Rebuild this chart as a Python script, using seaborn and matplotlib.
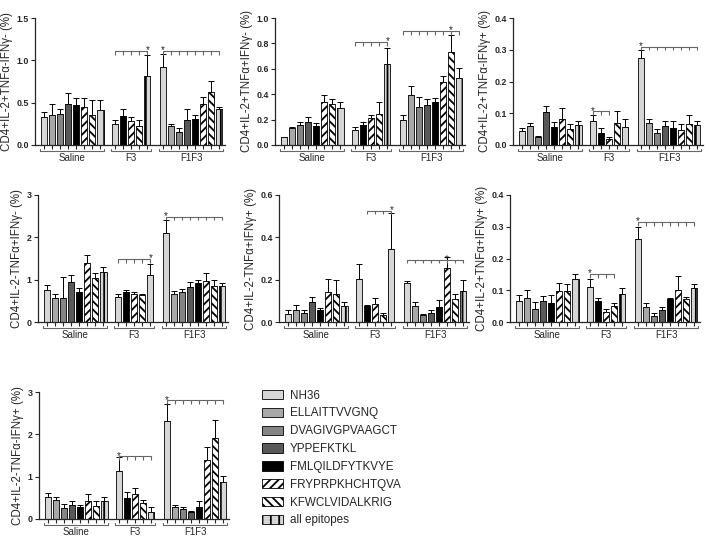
import numpy as np
import pandas as pd
import seaborn as sns
import matplotlib.pyplot as plt
from matplotlib.patches import Patch
from matplotlib.transforms import blended_transform_factory

sns.set_style("ticks")
plt.rcParams["font.family"] = ["Liberation Sans", "DejaVu Sans"]
plt.rcParams["hatch.linewidth"] = 1.3

epitopes = ["NH36", "ELLAITTVVGNQ", "DVAGIVGPVAAGCT", "YPPEFKTKL",
            "FMLQILDFYTKVYE", "FRYPRPKHCHTQVA", "KFWCLVIDALKRIG", "all epitopes"]
f3_epitopes = ["NH36", "FMLQILDFYTKVYE", "FRYPRPKHCHTQVA", "KFWCLVIDALKRIG", "all epitopes"]
groups = ["Saline", "F3", "F1F3"]

ylabels = [
    "CD4+IL-2+TNFα-IFNγ- (%)",
    "CD4+IL-2+TNFα+IFNγ- (%)",
    "CD4+IL-2+TNFα-IFNγ+ (%)",
    "CD4+IL-2-TNFα+IFNγ- (%)",
    "CD4+IL-2-TNFα+IFNγ+ (%)",
    "CD4+IL-2+TNFα+IFNγ+ (%)",
    "CD4+IL-2-TNFα-IFNγ+ (%)",
]

# means and SD (upper error) per group
saline_mean = [
    [0.33, 0.35, 0.37, 0.48, 0.47, 0.45, 0.36, 0.41],
    [0.06, 0.13, 0.155, 0.18, 0.15, 0.335, 0.325, 0.295],
    [0.044, 0.059, 0.026, 0.105, 0.058, 0.082, 0.049, 0.062],
    [0.75, 0.57, 0.56, 0.94, 0.70, 1.39, 1.04, 1.19],
    [0.04, 0.058, 0.043, 0.095, 0.055, 0.142, 0.134, 0.077],
    [0.065, 0.076, 0.041, 0.065, 0.06, 0.098, 0.098, 0.135],
    [0.53, 0.45, 0.26, 0.34, 0.29, 0.42, 0.30, 0.42],
]
saline_sd = [
    [0.06, 0.13, 0.06, 0.14, 0.09, 0.11, 0.17, 0.12],
    [0.005, 0.015, 0.025, 0.04, 0.02, 0.06, 0.04, 0.045],
    [0.011, 0.011, 0.003, 0.019, 0.016, 0.034, 0.017, 0.015],
    [0.12, 0.10, 0.50, 0.16, 0.11, 0.20, 0.12, 0.11],
    [0.018, 0.024, 0.015, 0.023, 0.013, 0.06, 0.063, 0.018],
    [0.02, 0.024, 0.021, 0.017, 0.025, 0.025, 0.022, 0.017],
    [0.08, 0.06, 0.10, 0.09, 0.05, 0.18, 0.12, 0.10],
]
f3_mean = [
    [0.25, 0.34, 0.28, 0.22, 0.82],
    [0.115, 0.16, 0.215, 0.245, 0.64],
    [0.075, 0.039, 0.02, 0.07, 0.056],
    [0.59, 0.72, 0.67, 0.63, 1.10],
    [0.205, 0.074, 0.087, 0.032, 0.346],
    [0.109, 0.065, 0.033, 0.049, 0.087],
    [1.13, 0.50, 0.60, 0.37, 0.17],
]
f3_sd = [
    [0.04, 0.09, 0.05, 0.07, 0.24],
    [0.025, 0.025, 0.02, 0.09, 0.125],
    [0.02, 0.014, 0.004, 0.038, 0.026],
    [0.07, 0.03, 0.04, 0.03, 0.26],
    [0.067, 0.008, 0.027, 0.011, 0.167],
    [0.027, 0.011, 0.007, 0.011, 0.02],
    [0.33, 0.13, 0.13, 0.09, 0.11],
]
f1f3_mean = [
    [0.92, 0.23, 0.155, 0.30, 0.305, 0.49, 0.63, 0.43],
    [0.20, 0.39, 0.30, 0.315, 0.335, 0.495, 0.735, 0.53],
    [0.275, 0.069, 0.039, 0.06, 0.053, 0.047, 0.065, 0.062],
    [2.10, 0.67, 0.72, 0.83, 0.93, 0.98, 0.85, 0.85],
    [0.185, 0.076, 0.035, 0.043, 0.071, 0.253, 0.11, 0.147],
    [0.26, 0.046, 0.02, 0.038, 0.071, 0.10, 0.073, 0.107],
    [2.31, 0.28, 0.23, 0.16, 0.28, 1.40, 1.91, 0.87],
]
f1f3_sd = [
    [0.15, 0.02, 0.04, 0.12, 0.05, 0.08, 0.13, 0.02],
    [0.035, 0.075, 0.075, 0.045, 0.035, 0.045, 0.13, 0.075],
    [0.024, 0.014, 0.01, 0.017, 0.022, 0.018, 0.028, 0.015],
    [0.31, 0.07, 0.07, 0.12, 0.07, 0.18, 0.15, 0.07],
    [0.008, 0.017, 0.005, 0.015, 0.032, 0.052, 0.021, 0.05],
    [0.04, 0.014, 0.007, 0.008, 0.005, 0.046, 0.005, 0.013],
    [0.41, 0.04, 0.05, 0.03, 0.14, 0.29, 0.42, 0.15],
]
# significance brackets: (group, first bar, last bar, star bar, height)
sig_brackets = [
    [("F3", 0, 4, 4, 1.11), ("F1F3", 0, 7, 0, 1.11)],
    [("F3", 0, 4, 4, 0.81), ("F1F3", 0, 7, 6, 0.90)],
    [("F3", 0, 2, 0, 0.106), ("F1F3", 0, 7, 0, 0.31)],
    [("F3", 0, 4, 4, 1.49), ("F1F3", 0, 7, 0, 2.49)],
    [("F3", 1, 4, 4, 0.526), ("F1F3", 0, 7, 5, 0.295)],
    [("F3", 0, 3, 0, 0.152), ("F1F3", 0, 7, 0, 0.315)],
    [("F3", 0, 4, 0, 1.48), ("F1F3", 0, 7, 0, 2.80)],
]
y_max = [1.5, 1.0, 0.4, 3, 0.6, 0.4, 3]
y_step = [0.5, 0.2, 0.1, 1, 0.2, 0.1, 1]

colors = ["#d6d6d6", "#a8a8a8", "#858585", "#595959", "#000000",
          "#ffffff", "#ffffff", "#d6d6d6"]
hatches = [None, None, None, None, None, "////", "\\\\\\\\", "||"]
palette = dict(zip(epitopes, colors))
hatch_of = dict(zip(epitopes, hatches))

positions = {
    "Saline": np.arange(8) * 1.0,
    "F3": 8.8 + np.arange(5),
    "F1F3": 14.7 + np.arange(8),
}

# axes boxes in pixels: left, top, bottom
boxes = [(35, 18, 145), (275, 18, 145), (513, 18, 145),
         (38, 195, 322), (279, 195, 322), (510, 195, 322),
         (39, 392, 519)]
W, H = 709, 537
AXW = 190

fig = plt.figure(figsize=(W / 100, H / 100), dpi=100)
gray = "#666666"

for i in range(7):
    l, t, b = boxes[i]
    ax = fig.add_axes([l / W, 1 - b / H, AXW / W, (b - t) / H])

    rows = []
    for g, labs, m, s in [("Saline", epitopes, saline_mean[i], saline_sd[i]),
                          ("F3", f3_epitopes, f3_mean[i], f3_sd[i]),
                          ("F1F3", epitopes, f1f3_mean[i], f1f3_sd[i])]:
        for k, (e, v, sd) in enumerate(zip(labs, m, s)):
            rows.append({"group": g, "pos": positions[g][k], "epitope": e,
                         "value": v, "sd": sd})
    df = pd.DataFrame(rows)

    sns.barplot(data=df, x="pos", y="value", hue="epitope", hue_order=epitopes,
                palette=palette, native_scale=True, dodge=False, width=0.75,
                errorbar=None, edgecolor="black", linewidth=0.6, legend=False,
                ax=ax, zorder=2)
    for p in ax.patches:
        cx = p.get_x() + p.get_width() / 2
        e = df.loc[(df["pos"] - cx).abs().idxmin(), "epitope"]
        if hatch_of[e]:
            p.set_hatch(hatch_of[e])

    ax.errorbar(df["pos"], df["value"], yerr=[np.zeros(len(df)), df["sd"]],
                fmt="none", ecolor="black", elinewidth=0.7, capsize=2,
                capthick=0.7, zorder=1)

    ym = y_max[i]
    ax.set_ylim(0, ym)
    ax.set_xlim(-1.1, 22.4)
    ticks = np.arange(0, ym + y_step[i] / 2, y_step[i])
    ax.set_yticks(ticks)
    if y_step[i] >= 1:
        ax.set_yticklabels([f"{v:.0f}" for v in ticks])
    else:
        ax.set_yticklabels([f"{v:.1f}" for v in ticks])
    for lab in ax.get_yticklabels():
        lab.set_fontweight("bold")
    ax.set_xticks(df["pos"])
    ax.set_xticklabels([])
    ax.tick_params(axis="y", labelsize=6.4, length=3, width=0.8, pad=1.5)
    ax.tick_params(axis="x", length=3, width=0.8)
    ax.set_xlabel("")
    ax.set_ylabel(ylabels[i], fontsize=8.3, labelpad=2.5)
    sns.despine(ax=ax)
    for sp in ["left", "bottom"]:
        ax.spines[sp].set_linewidth(0.9)

    # group brackets under the axis
    trans = blended_transform_factory(ax.transData, ax.transAxes)
    for g in groups:
        xs = positions[g]
        x0, x1 = xs[0] - 0.45, xs[-1] + 0.45
        ax.plot([x0, x0, x1, x1], [-0.03, -0.05, -0.05, -0.03], color=gray,
                lw=0.8, transform=trans, clip_on=False)
        ax.text((x0 + x1) / 2, -0.062, g, transform=trans, ha="center",
                va="top", fontsize=7)

    # significance brackets
    for g, a, z, st, h in sig_brackets[i]:
        xs = positions[g][a:z + 1]
        ax.plot([xs[0], xs[-1]], [h, h], color=gray, lw=0.8, clip_on=False)
        ax.vlines(xs, h - 0.03 * ym, h, color=gray, lw=0.8)
        ax.text(positions[g][st], h - 0.035 * ym, "*", ha="center", va="bottom",
                fontsize=7)

handles = [Patch(facecolor=c, edgecolor="black", hatch=hh, linewidth=0.6)
           for c, hh in zip(colors, hatches)]
fig.legend(handles, epitopes, loc="upper left",
           bbox_to_anchor=(257 / W, 1 - 385 / H), frameon=False, fontsize=8.4,
           handlelength=1.8, handleheight=0.85, labelspacing=0.5,
           handletextpad=0.6, borderaxespad=0)

fig.savefig("out.png", dpi=100)
